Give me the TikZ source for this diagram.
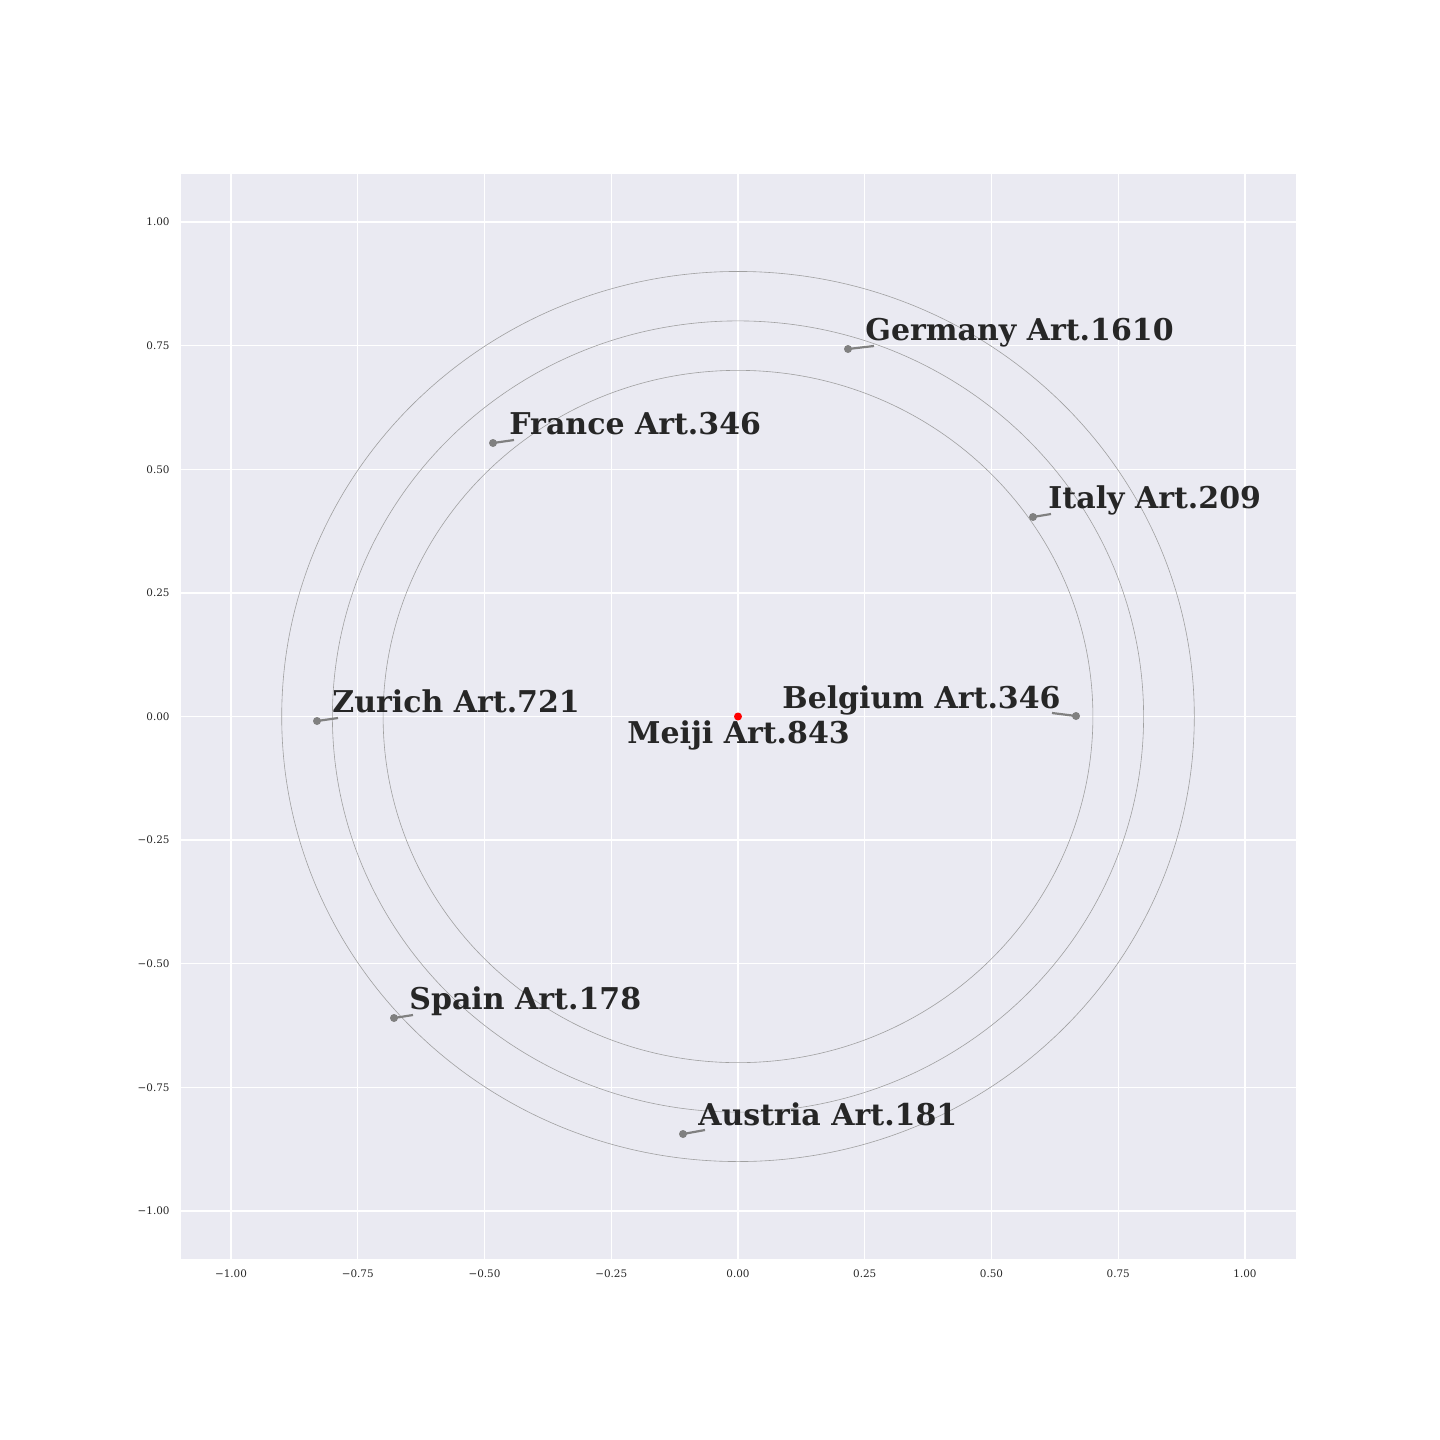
\documentclass[tikz,border=0pt]{standalone}
\usepackage{fontspec}
\setmainfont{DejaVu Serif}
\definecolor{bg}{HTML}{EAEAF2}
\definecolor{txt}{HTML}{262626}
\definecolor{dotgray}{HTML}{808080}
\definecolor{ringgray}{HTML}{A0A0A0}
\begin{document}
\begin{tikzpicture}[x=0.5pt,y=-0.5pt,
  lab/.style={font=\fontsize{15}{18}\selectfont\bfseries, text=txt, anchor=base west, inner sep=0},
  ticklab/.style={font=\fontsize{5.2}{6}\selectfont, text=txt, inner sep=0},
  pt/.style={circle, fill=dotgray, inner sep=0, minimum size=4pt},
  lead/.style={draw=dotgray, line width=1.1pt},
  ring/.style={draw=ringgray, line width=0.3pt},
  gridline/.style={draw=white, line width=0.7pt}]
\useasboundingbox (0,0) rectangle (1440,1440);
\fill[bg] (181,174) rectangle (1296,1259);
% grid
\foreach \v in {-1,-0.75,-0.5,-0.25,0,0.25,0.5,0.75,1}{
  \draw[gridline] ({738+507*\v},174) -- ({738+507*\v},1259);
  \draw[gridline] (181,{716.5-494.5*\v}) -- (1296,{716.5-494.5*\v});
}
% tick labels
\foreach \v/\t in {-1/{−1.00},-0.75/{−0.75},-0.5/{−0.50},-0.25/{−0.25},0/{0.00},0.25/{0.25},0.5/{0.50},0.75/{0.75},1/{1.00}}{
  \node[ticklab, anchor=center] (xt\v) at ({738+507*\v},1274) {\t};
  \node[ticklab, anchor=east] (yt\v) at (170,{716.5-494.5*\v}) {\t};
}
% rings
\draw[ring] (738,716.5) ellipse [x radius=354.9, y radius=346.15];
\draw[ring] (738,716.5) ellipse [x radius=405.6, y radius=395.6];
\draw[ring] (738,716.5) ellipse [x radius=456.3, y radius=445.05];
% points
\node[pt] (g) at (848,349) {};
\node[pt] (f) at (493,443) {};
\node[pt] (i) at (1033,517) {};
\node[pt] (z) at (317,721) {};
\node[pt] (b) at (1076,716) {};
\node[pt] (s) at (394,1018) {};
\node[pt] (a) at (683,1134) {};
\node[pt, fill=red] (m) at (738,716.5) {};
% leader ends
\coordinate (ge) at (874,346);
\coordinate (fe) at (514,440);
\coordinate (ie) at (1051,514);
\coordinate (ze) at (338,718);
\coordinate (be) at (1052,713);
\coordinate (se) at (413,1015);
\coordinate (ae) at (705,1130);
\draw[lead] (g.center) -- (ge);
\draw[lead] (f.center) -- (fe);
\draw[lead] (i.center) -- (ie);
\draw[lead] (z.center) -- (ze);
\draw[lead] (b.center) -- (be);
\draw[lead] (s.center) -- (se);
\draw[lead] (a.center) -- (ae);
% labels
\node[lab] (gl) at (865,340) {Germany Art.1610};
\node[lab] (fl) at (509,434) {France Art.346};
\node[lab] (il) at (1048,508) {Italy Art.209};
\node[lab] (zl) at (332,712) {Zurich Art.721};
\node[lab] (bl) at (782,708) {Belgium Art.346};
\node[lab] (ml) at (627,743) {Meiji Art.843};
\node[lab] (sl) at (409,1009) {Spain Art.178};
\node[lab] (al) at (698,1125) {Austria Art.181};
\end{tikzpicture}
\end{document}
